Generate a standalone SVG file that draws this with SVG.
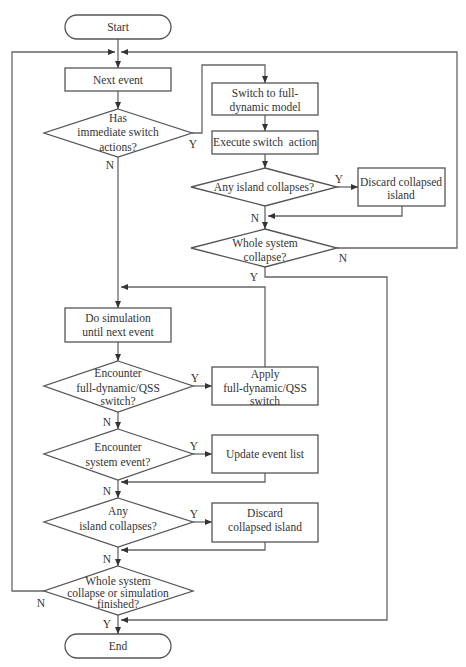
<svg xmlns="http://www.w3.org/2000/svg" width="466" height="667" viewBox="0 0 466 667">
<defs>
<marker id="ah" markerWidth="8" markerHeight="8" refX="7" refY="4" orient="auto" markerUnits="userSpaceOnUse">
<path d="M0,1 L7,4 L0,7 Z" fill="#333"/>
</marker>
<style>
.n{fill:#fff;stroke:#555;stroke-width:1.3}
.t{font-family:"Liberation Serif",serif;font-size:11.5px;fill:#333;text-anchor:middle}
.l{font-family:"Liberation Serif",serif;font-size:11.5px;fill:#333;text-anchor:middle}
.c{fill:none;stroke:#666;stroke-width:1.3}
.a{marker-end:url(#ah)}
</style>
</defs>
<rect width="466" height="667" fill="#fff"/>
<g id="connectors">
<path class="c a" d="M118,39 V68"/>
<path class="c a" d="M44,591 H12 V52 H115"/>
<path class="c a" d="M337,248 H457 V52 H121"/>
<path class="c a" d="M118,91 V109"/>
<path class="c a" d="M192,133 H202 V65 H265 V83"/>
<path class="c a" d="M265,115 V131"/>
<path class="c a" d="M265,154 V168"/>
<path class="c a" d="M337,187 H358"/>
<path class="c a" d="M402,206 V216 H268"/>
<path class="c a" d="M265,206 V229"/>
<path class="c a" d="M265,267 V277 H387 V620 H121"/>
<path class="c a" d="M118,157 V308"/>
<path class="c a" d="M265,367 V287 H121"/>
<path class="c a" d="M118,342 V361"/>
<path class="c a" d="M193,386 H212"/>
<path class="c a" d="M118,412 V429"/>
<path class="c a" d="M193,454 H212"/>
<path class="c a" d="M265,473 V482 H121"/>
<path class="c a" d="M118,480 V498"/>
<path class="c a" d="M193,522 H212"/>
<path class="c a" d="M265,542 V550 H121"/>
<path class="c a" d="M118,547 V566"/>
<path class="c a" d="M118,615 V634"/>
<text class="l" x="193" y="148">Y</text>
<text class="l" x="110" y="169">N</text>
<text class="l" x="339" y="183">Y</text>
<text class="l" x="255" y="222">N</text>
<text class="l" x="343" y="262">N</text>
<text class="l" x="254" y="281">Y</text>
<text class="l" x="195" y="382">Y</text>
<text class="l" x="107" y="426">N</text>
<text class="l" x="194" y="450">Y</text>
<text class="l" x="107" y="495">N</text>
<text class="l" x="194" y="518">Y</text>
<text class="l" x="107" y="563">N</text>
<text class="l" x="41" y="607">N</text>
<text class="l" x="107" y="628">Y</text>
</g>
<g id="start">
<rect class="n" x="65" y="15" width="106" height="24" rx="12"/>
<text class="t" x="118" y="31">Start</text>
</g>
<g id="next-event">
<rect class="n" x="65" y="68" width="106" height="23"/>
<text class="t" x="118" y="84">Next event</text>
</g>
<g id="has-immediate">
<polygon class="n" points="118,109 192,133 118,157 44,133"/>
<text class="t" x="118" y="122">Has</text>
<text class="t" x="118" y="136">immediate switch</text>
<text class="t" x="118" y="151">actions?</text>
</g>
<g id="switch-full">
<rect class="n" x="212" y="83" width="106" height="32"/>
<text class="t" x="265" y="97">Switch to full-</text>
<text class="t" x="265" y="111">dynamic model</text>
</g>
<g id="execute-switch">
<rect class="n" x="212" y="131" width="106" height="23"/>
<text class="t" x="265" y="146" xml:space="preserve">Execute switch  action</text>
</g>
<g id="any-island-1">
<polygon class="n" points="265,168 337,187 265,206 191,187"/>
<text class="t" x="264" y="191">Any island collapses?</text>
</g>
<g id="discard-1">
<rect class="n" x="358" y="168" width="87" height="38"/>
<text class="t" x="401" y="186">Discard collapsed</text>
<text class="t" x="401" y="199">island</text>
</g>
<g id="whole-system-1">
<polygon class="n" points="265,229 337,248 265,267 191,248"/>
<text class="t" x="265" y="247">Whole system</text>
<text class="t" x="265" y="261">collapse?</text>
</g>
<g id="do-simulation">
<rect class="n" x="65" y="308" width="106" height="34"/>
<text class="t" x="118" y="322">Do simulation</text>
<text class="t" x="118" y="336">until next event</text>
</g>
<g id="encounter-qss">
<polygon class="n" points="118,361 193,386 118,412 44,386"/>
<text class="t" x="118" y="377">Encounter</text>
<text class="t" x="118" y="392">full-dynamic/QSS</text>
<text class="t" x="118" y="405">switch?</text>
</g>
<g id="apply-qss">
<rect class="n" x="212" y="367" width="106" height="38"/>
<text class="t" x="265" y="378">Apply</text>
<text class="t" x="265" y="392">full-dynamic/QSS</text>
<text class="t" x="265" y="405">switch</text>
</g>
<g id="encounter-system">
<polygon class="n" points="118,429 193,454 118,480 44,454"/>
<text class="t" x="118" y="451">Encounter</text>
<text class="t" x="118" y="466">system event?</text>
</g>
<g id="update-list">
<rect class="n" x="212" y="435" width="106" height="38"/>
<text class="t" x="265" y="458">Update event list</text>
</g>
<g id="any-island-2">
<polygon class="n" points="118,498 193,522 118,547 44,522"/>
<text class="t" x="118" y="515">Any</text>
<text class="t" x="118" y="530">island collapses?</text>
</g>
<g id="discard-2">
<rect class="n" x="212" y="503" width="106" height="39"/>
<text class="t" x="265" y="517">Discard</text>
<text class="t" x="265" y="531">collapsed island</text>
</g>
<g id="whole-system-2">
<polygon class="n" points="118,566 193,591 118,615 44,591"/>
<text class="t" x="118" y="585">Whole system</text>
<text class="t" x="118" y="597">collapse or simulation</text>
<text class="t" x="118" y="608">finished?</text>
</g>
<g id="end">
<rect class="n" x="65" y="634" width="106" height="24" rx="12"/>
<text class="t" x="118" y="650">End</text>
</g>
</svg>
